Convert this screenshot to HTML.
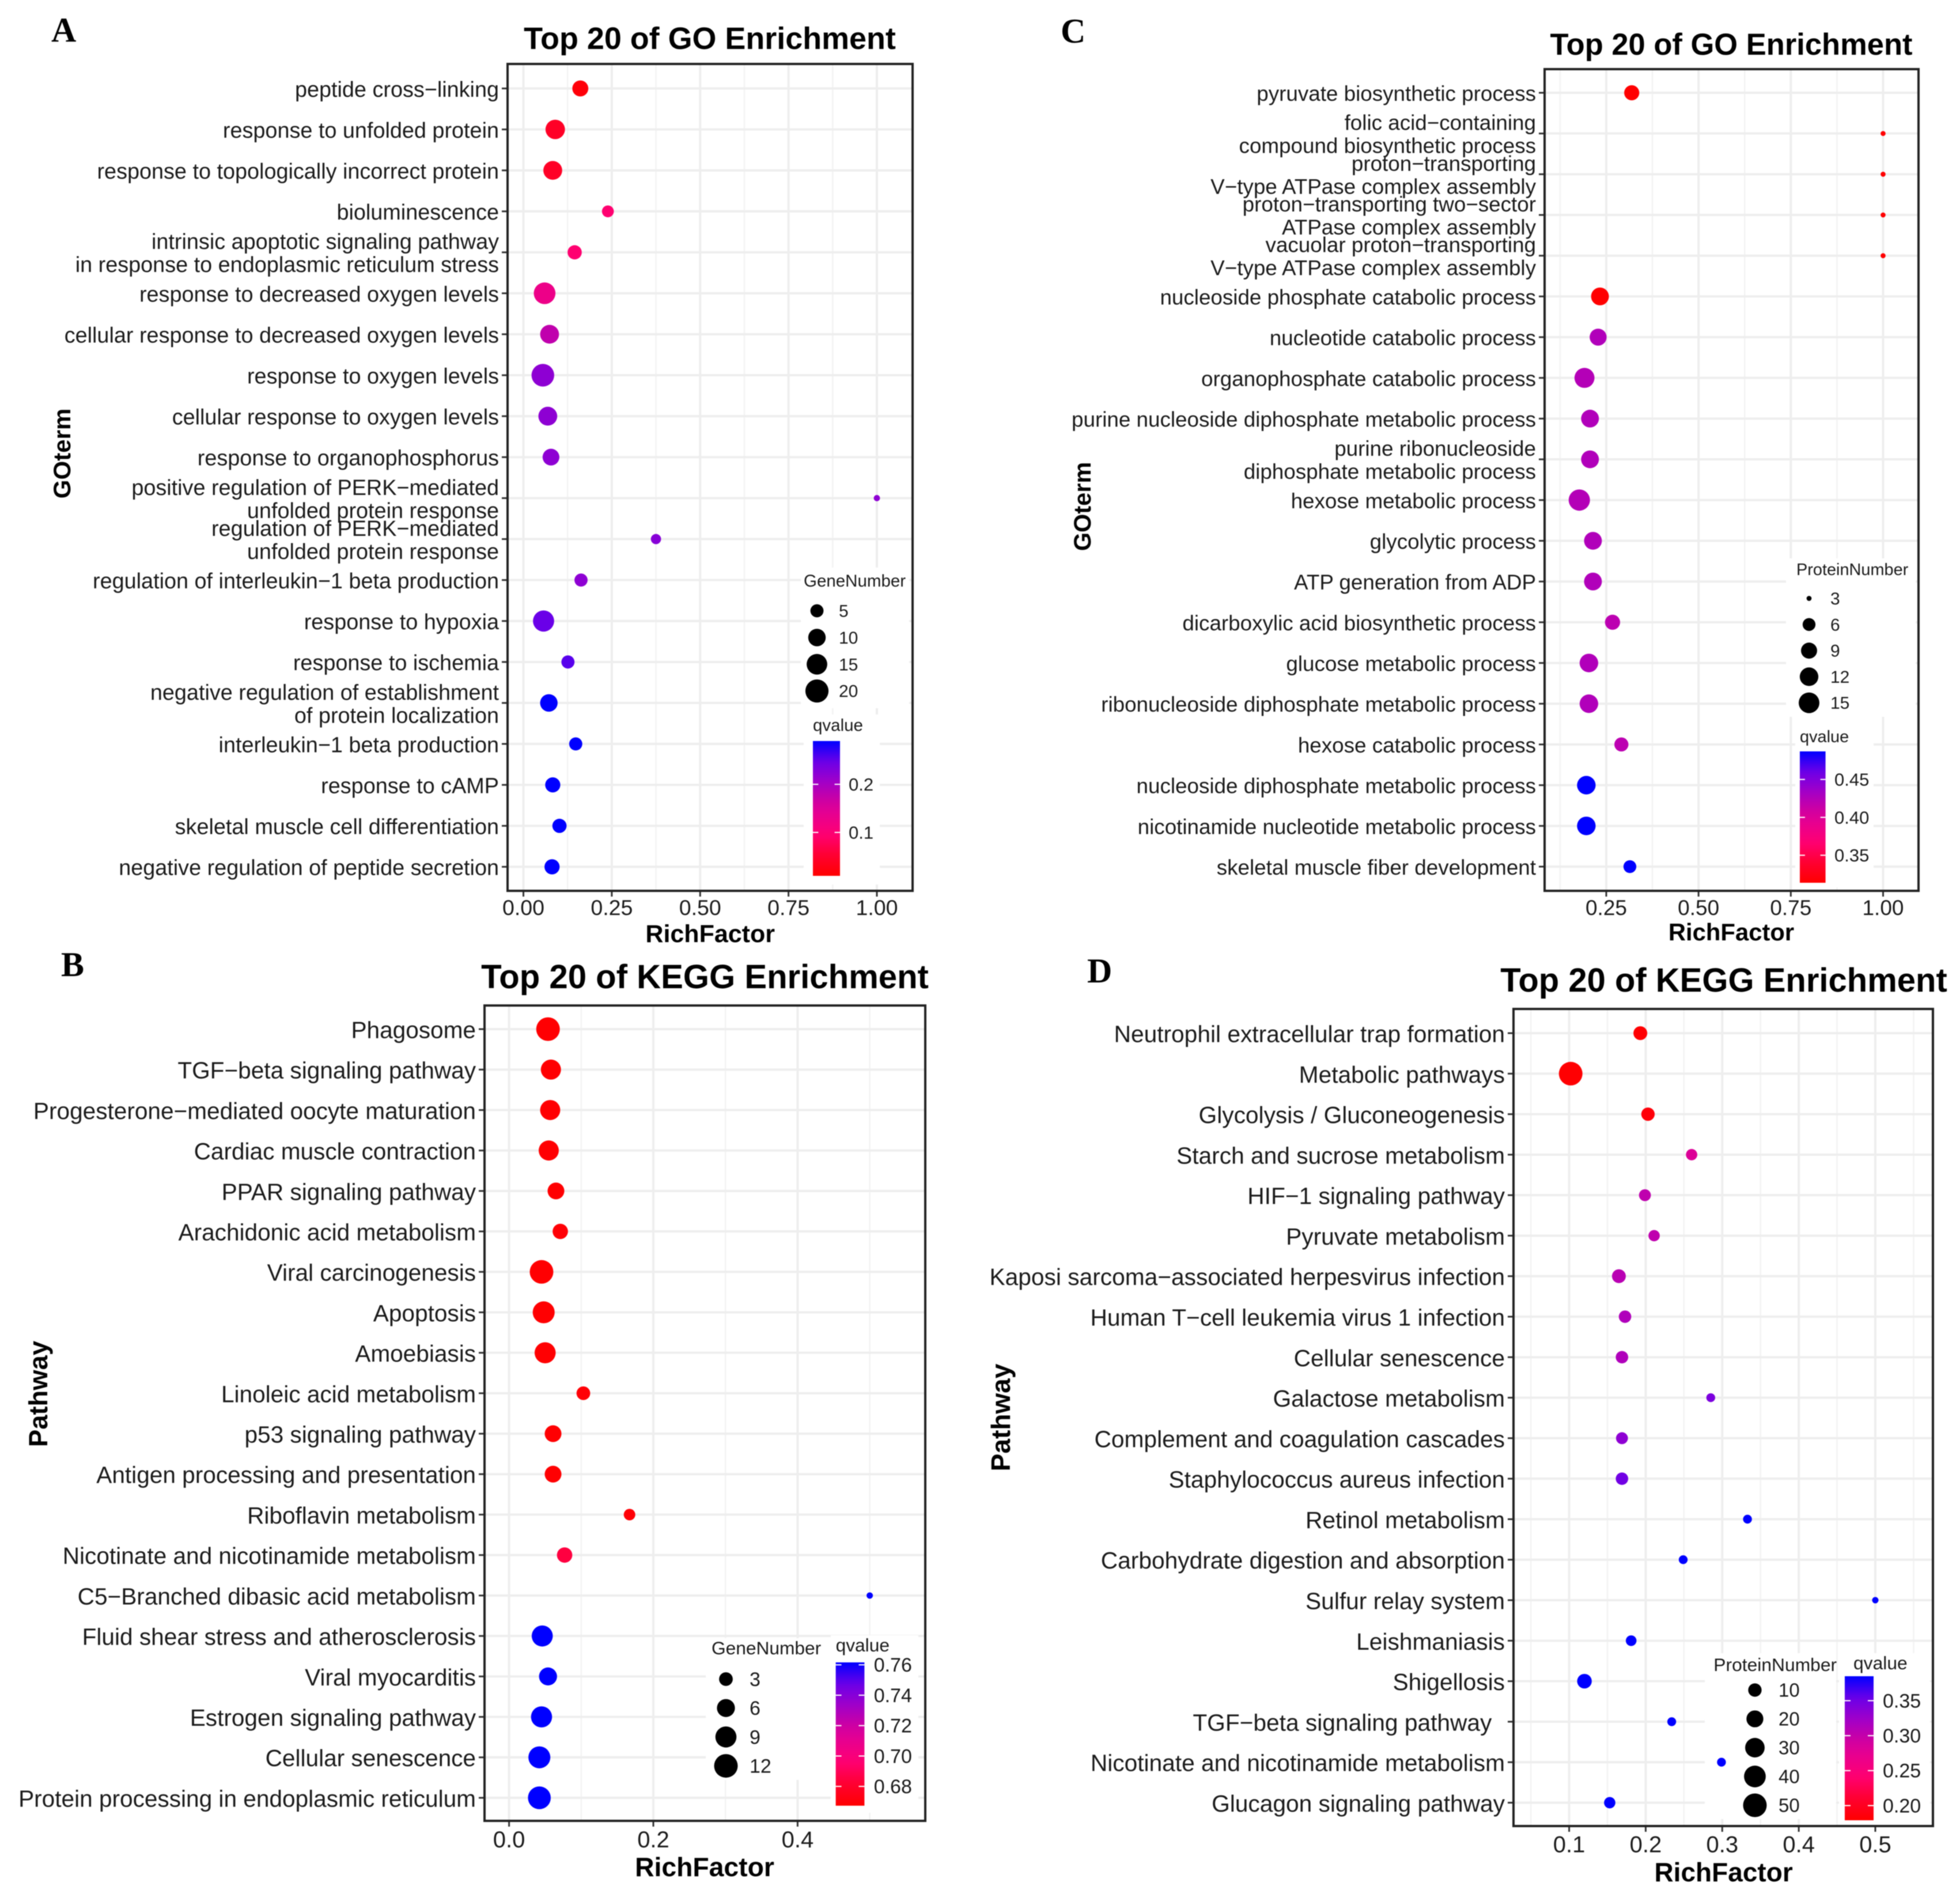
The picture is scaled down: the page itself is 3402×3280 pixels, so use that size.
<!DOCTYPE html>
<html lang="en">
<head>
<meta charset="utf-8">
<title>Top 20 GO and KEGG Enrichment</title>
<style>
html,body{margin:0;padding:0;background:#fff;}
svg{display:block;filter:blur(0.8px);}
text{font-family:"Liberation Sans",sans-serif;fill:#1a1a1a;}
.t{font-weight:bold;fill:#000;text-anchor:middle;}
.l{font-family:"Liberation Serif",serif;font-weight:bold;fill:#000;font-size:60px;}
</style>
</head>
<body>
<svg id="fig" xmlns="http://www.w3.org/2000/svg" width="3402" height="3280" viewBox="0 0 3402 3280">
<rect width="3402" height="3280" fill="#fff"/>
<defs id="defs"></defs>
<text class="l" x="89" y="72">A</text>
<text class="l" x="1841" y="74">C</text>
<text class="l" x="106" y="1694">B</text>
<text class="l" x="1887" y="1705">D</text>

<text class="t" x="1232" y="85" font-size="53.9">Top 20 of GO Enrichment</text>
<text class="t" x="3005" y="95" font-size="52.5">Top 20 of GO Enrichment</text>
<text class="t" x="1223.5" y="1715" font-size="58.1">Top 20 of KEGG Enrichment</text>
<text class="t" x="2992" y="1721" font-size="58">Top 20 of KEGG Enrichment</text>

<text class="t" x="1232.7" y="1635" font-size="43">RichFactor</text>
<text class="t" x="3005" y="1632" font-size="41.8">RichFactor</text>
<text class="t" x="1223" y="3256" font-size="46.3">RichFactor</text>
<text class="t" x="2991.6" y="3265" font-size="46">RichFactor</text>

<text class="t" transform="translate(122,787) rotate(-90)" font-size="42">GOterm</text>
<text class="t" transform="translate(1893,879) rotate(-90)" font-size="41.5">GOterm</text>
<text class="t" transform="translate(82,2419) rotate(-90)" font-size="45.4">Pathway</text>
<text class="t" transform="translate(1753,2460) rotate(-90)" font-size="46">Pathway</text>
</svg>

<script>
/* ---------- Panel A data ---------- */
const aCategories = [
  "peptide cross−linking","response to unfolded protein","response to topologically incorrect protein",
  "bioluminescence","intrinsic apoptotic signaling pathway\nin response to endoplasmic reticulum stress",
  "response to decreased oxygen levels","cellular response to decreased oxygen levels","response to oxygen levels",
  "cellular response to oxygen levels","response to organophosphorus",
  "positive regulation of PERK−mediated\nunfolded protein response","regulation of PERK−mediated\nunfolded protein response",
  "regulation of interleukin−1 beta production","response to hypoxia","response to ischemia",
  "negative regulation of establishment\nof protein localization","interleukin−1 beta production",
  "response to cAMP","skeletal muscle cell differentiation","negative regulation of peptide secretion"];
const aRich = [.161,.090,.083,.239,.145,.060,.074,.055,.069,.078,1.0,.375,.163,.057,.126,.072,.148,.083,.102,.081];
const aCount = [8,13,12,4,6,17,12,19,12,9,2,3,5,16,5,10,5,7,6,7];
const aQ = [.018,.043,.043,.094,.094,.127,.178,.22,.22,.22,.22,.225,.22,.248,.255,.29,.29,.29,.29,.29];
const aXMajor = ["0.00","0.25","0.50","0.75","1.00"];
const aXMinor = [.125,.375,.625,.875];
const aSizeTicks = [5,10,15,20];
const aQTicks = ["0.2","0.1"];

/* ---------- Panel C data ---------- */
const cCategories = [
  "pyruvate biosynthetic process","folic acid−containing\ncompound biosynthetic process",
  "proton−transporting\nV−type ATPase complex assembly","proton−transporting two−sector\nATPase complex assembly",
  "vacuolar proton−transporting\nV−type ATPase complex assembly","nucleoside phosphate catabolic process",
  "nucleotide catabolic process","organophosphate catabolic process","purine nucleoside diphosphate metabolic process",
  "purine ribonucleoside\ndiphosphate metabolic process","hexose metabolic process","glycolytic process",
  "ATP generation from ADP","dicarboxylic acid biosynthetic process","glucose metabolic process",
  "ribonucleoside diphosphate metabolic process","hexose catabolic process","nucleoside diphosphate metabolic process",
  "nicotinamide nucleotide metabolic process","skeletal muscle fiber development"];
const cRich = [.319,1,1,1,1,.233,.228,.191,.206,.206,.177,.214,.214,.267,.203,.203,.291,.196,.196,.314];
const cCount = [8,3,3,3,3,11,10,14,11,11,16,11,11,8,12,12,7,12,12,6];
const cQ = [.314,.314,.314,.314,.314,.314,.426,.424,.426,.426,.424,.426,.426,.42,.426,.426,.42,.487,.487,.487];
const cXMajor = ["0.25","0.50","0.75","1.00"];
const cXMinor = [.125,.375,.625,.875];
const cSizeTicks = [3,6,9,12,15];
const cQTicks = ["0.45","0.40","0.35"];

/* ---------- Panel B data ---------- */
const bCategories = [
  "Phagosome","TGF−beta signaling pathway","Progesterone−mediated oocyte maturation","Cardiac muscle contraction",
  "PPAR signaling pathway","Arachidonic acid metabolism","Viral carcinogenesis","Apoptosis","Amoebiasis",
  "Linoleic acid metabolism","p53 signaling pathway","Antigen processing and presentation","Riboflavin metabolism",
  "Nicotinate and nicotinamide metabolism","C5−Branched dibasic acid metabolism","Fluid shear stress and atherosclerosis",
  "Viral myocarditis","Estrogen signaling pathway","Cellular senescence","Protein processing in endoplasmic reticulum"];
const bRich = [.054,.058,.057,.055,.065,.071,.045,.048,.050,.103,.061,.061,.167,.077,.5,.046,.054,.045,.042,.042];
const bCount = [12,8,8,8,5,4,12,10,9,3,5,5,2,4,1,9,6,9,10,11];
const bQ = [.668,.668,.668,.668,.668,.669,.668,.668,.668,.669,.668,.668,.669,.685,.7616,.7616,.7616,.7616,.7616,.7616];
const bXMajor = ["0.0","0.2","0.4"];
const bXMinor = [.1,.3,.5];
const bSizeTicks = [3,6,9,12];
const bQTicks = ["0.76","0.74","0.72","0.70","0.68"];

/* ---------- Panel D data ---------- */
const dCategories = [
  "Neutrophil extracellular trap formation","Metabolic pathways","Glycolysis / Gluconeogenesis","Starch and sucrose metabolism",
  "HIF−1 signaling pathway","Pyruvate metabolism","Kaposi sarcoma−associated herpesvirus infection",
  "Human T−cell leukemia virus 1 infection","Cellular senescence","Galactose metabolism","Complement and coagulation cascades",
  "Staphylococcus aureus infection","Retinol metabolism","Carbohydrate digestion and absorption","Sulfur relay system",
  "Leishmaniasis","Shigellosis","TGF−beta signaling pathway\u00A0\u00A0","Nicotinate and nicotinamide metabolism","Glucagon signaling pathway"];
const dRich = [.193,.102,.203,.260,.199,.211,.165,.173,.169,.285,.169,.169,.333,.249,.5,.181,.120,.234,.299,.153];
const dCount = [11,50,10,6,7,6,11,8,8,3,7,8,3,3,2,5,13,3,3,6];
const dQ = [.18,.18,.185,.282,.303,.303,.307,.313,.313,.344,.3335,.35,.385,.385,.385,.385,.385,.385,.385,.385];
const dXMajor = ["0.1","0.2","0.3","0.4","0.5"];
const dXMinor = [.05,.15,.25,.35,.45,.55];
const dSizeTicks = [10,20,30,40,50];
const dQTicks = ["0.35","0.30","0.25","0.20"];

/* ---------- Panel layout (geometry only) ---------- */
const panels = [
  {id:"a",cats:aCategories,rich:aRich,count:aCount,q:aQ,xMajor:aXMajor,xMinor:aXMinor,sizeTicks:aSizeTicks,qTicks:aQTicks,
   box:[881,111,1584,1546],row0:153.5,rowN:1504.3,cal:[0,908.5,1,1522],labelFs:37.8,xFs:37.5,xY:1575,lineGap:40,
   nRange:[2,21],dRange:[10.8,41],qRange:[.0097,.29],
   sizeTitle:"GeneNumber",sizeTitleX:1395,sizeTitleY:1007.5,titleFs:29.5,dotX:1418,dotY0:1060,dotStep:46.4,labX:1456,legFs:30,
   qTitleX:1411,qTitleY:1258,bar:[1411,1286,1458,1520],qLabX:1473,qFs:31,
   wipes:[[1390,985,188,244],[1395,1240,132,295]]},
  {id:"c",cats:cCategories,rich:cRich,count:cCount,q:cQ,xMajor:cXMajor,xMinor:cXMinor,sizeTicks:cSizeTicks,qTicks:cQTicks,
   box:[2681,120,3330,1546],row0:161,rowN:1504,cal:[.25,2788,1,3268.5],labelFs:36.8,xFs:37,xY:1575,lineGap:40,
   nRange:[3,16],dRange:[8.7,37],qRange:[.3137,.487],
   sizeTitle:"ProteinNumber",sizeTitleX:3118,sizeTitleY:988,titleFs:28.9,dotX:3140,dotY0:1038.5,dotStep:45.3,labX:3177,legFs:30,
   qTitleX:3124,qTitleY:1278,bar:[3124,1304,3168.6,1532],qLabX:3184,qFs:31,
   wipes:[[3100,969,225,275],[3116,1244,136,296]]},
  {id:"b",cats:bCategories,rich:bRich,count:bCount,q:bQ,xMajor:bXMajor,xMinor:bXMinor,sizeTicks:bSizeTicks,qTicks:bQTicks,
   box:[841,1745,1606,3160],row0:1786,rowN:3120,cal:[0,883.6,.4,1384.4],labelFs:40.6,xFs:40,xY:3192,lineGap:40,
   nRange:[1,12],dRange:[11,41],qRange:[.6673,.7616],
   sizeTitle:"GeneNumber",sizeTitleX:1235,sizeTitleY:2860,titleFs:31.7,dotX:1260,dotY0:2914,dotStep:50.2,labX:1301,legFs:34,
   qTitleX:1450.6,qTitleY:2855,bar:[1450.6,2885,1500.4,3133.7],qLabX:1516.7,qFs:34,
   wipes:[[1225,2843,217,246],[1442,2838,152,308]]},
  {id:"d",cats:dCategories,rich:dRich,count:dCount,q:dQ,xMajor:dXMajor,xMinor:dXMinor,sizeTicks:dSizeTicks,qTicks:dQTicks,
   box:[2627,1751,3355,3169],row0:1793,rowN:3128.5,cal:[.1,2723.6,.5,3255],labelFs:40.7,xFs:40,xY:3200.6,lineGap:40,
   nRange:[2,50],dRange:[11,41],qRange:[.179,.385],
   sizeTitle:"ProteinNumber",sizeTitleX:2974.3,sizeTitleY:2889,titleFs:31.8,dotX:3046,dotY0:2933,dotStep:50,labX:3087,legFs:33,
   qTitleX:3217,qTitleY:2886,bar:[3202,2909,3252,3159],qLabX:3268,qFs:34,
   wipes:[[2959,2869,228,288],[3192,2869,158,298]]}
];

/* ---------- Helpers ---------- */
const NS = "http://www.w3.org/2000/svg";
const fig = document.getElementById("fig");
const defs = document.getElementById("defs");
function mk(parent, tag, attrs, text){
  const el = document.createElementNS(NS, tag);
  for (const k in attrs) el.setAttribute(k, attrs[k]);
  if (text !== undefined) el.textContent = text;
  parent.appendChild(el);
  return el;
}
/* red-to-blue palette as it appears on the colour bars */
const paletteT = [0,.15,.3,.45,.55,.7,.85,1];
const paletteR = [255,255,255,232,208,160,106,0];
const paletteB = [0,48,112,143,160,200,232,255];
function gradientColor(t){
  t=Math.max(0,Math.min(1,t));
  let i=0;
  while(i<paletteT.length-2&&t>paletteT[i+1]) i++;
  const u=(t-paletteT[i])/(paletteT[i+1]-paletteT[i]);
  const r=Math.round(paletteR[i]+(paletteR[i+1]-paletteR[i])*u);
  const b=Math.round(paletteB[i]+(paletteB[i+1]-paletteB[i])*u);
  return "rgb("+r+",0,"+b+")";
}

/* ---------- Draw one panel ---------- */
function drawPanel(p){
  const g = mk(fig,"g",{});
  
  
  const [L,T,R,B] = p.box;
  const xScale = v => p.cal[1] + (v-p.cal[0])*(p.cal[3]-p.cal[1])/(p.cal[2]-p.cal[0]);
  const yScale = i => p.row0 + i*(p.rowN-p.row0)/(p.cats.length-1);
  const dScale = n => p.dRange[0] + (p.dRange[1]-p.dRange[0])*Math.sqrt(Math.max(0,(n-p.nRange[0])/(p.nRange[1]-p.nRange[0])));
  const tScale = q => (q-p.qRange[0])/(p.qRange[1]-p.qRange[0]);

  /* gridlines */
  p.xMinor.forEach(v=>{
    const x=xScale(v);
    if(x<L||x>R) return;
    const el=mk(g,"line",{x1:x,x2:x,y1:T,y2:B,stroke:"#f3f3f3","stroke-width":2.5});
    
    
  });
  p.xMajor.forEach(lbl=>{
    const x=xScale(parseFloat(lbl));
    const el=mk(g,"line",{x1:x,x2:x,y1:T,y2:B,stroke:"#eeeeee","stroke-width":4});
    
    
  });
  p.cats.forEach((c,i)=>{
    const el=mk(g,"line",{x1:L,x2:R,y1:yScale(i),y2:yScale(i),stroke:"#eeeeee","stroke-width":4});
    
    
  });

  /* legend background */
  p.wipes.forEach(w=>{
    const el=mk(g,"rect",{x:w[0],y:w[1],width:w[2],height:w[3],fill:"#fff"});
    
    
  });

  /* points */
  p.cats.forEach((c,i)=>{
    const el=mk(g,"circle",{cx:xScale(p.rich[i]),cy:yScale(i),r:dScale(p.count[i])/2,fill:gradientColor(tScale(p.q[i]))});
    
    
  });

  /* y ticks and labels */
  p.cats.forEach((c,i)=>{
    const y=yScale(i);
    const tick=mk(g,"line",{x1:L-10,x2:L,y1:y,y2:y,stroke:"#333","stroke-width":3});
    
    
    const lines=c.split("\n");
    const y0=y-(lines.length-1)*p.lineGap/2+p.labelFs*.38;
    const t=mk(g,"text",{"text-anchor":"end","font-size":p.labelFs,"xml:space":"preserve"});
    
    
    lines.forEach((ln,j)=>{
      mk(t,"tspan",{x:L-15,y:y0+j*p.lineGap},ln);
    });
  });

  /* x ticks and labels */
  p.xMajor.forEach(lbl=>{
    const x=xScale(parseFloat(lbl));
    const tick=mk(g,"line",{x1:x,x2:x,y1:B,y2:B+10,stroke:"#333","stroke-width":3});
    
    
    const t=mk(g,"text",{x:x,y:p.xY+p.xFs*.35,"text-anchor":"middle","font-size":p.xFs},lbl);
    
    
  });

  /* size legend */
  const st=mk(g,"text",{x:p.sizeTitleX,y:p.sizeTitleY+p.titleFs*.35,"font-size":p.titleFs},p.sizeTitle);
  
  
  p.sizeTicks.forEach((n,i)=>{
    const y=p.dotY0+i*p.dotStep;
    const dot=mk(g,"circle",{cx:p.dotX,cy:y,r:dScale(n)/2,fill:"#000"});
    
    
    const lab=mk(g,"text",{x:p.labX,y:y+p.legFs*.35,"font-size":p.legFs},String(n));
    
    
  });

  /* colour legend */
  const qt=mk(g,"text",{x:p.qTitleX,y:p.qTitleY+p.titleFs*.35,"font-size":p.titleFs},"qvalue");
  
  
  const gid="qgrad-"+p.id;
  const lg=mk(defs,"linearGradient",{id:gid,x1:0,y1:1,x2:0,y2:0});
  for(let s=0;s<=24;s++) mk(lg,"stop",{offset:s/24,"stop-color":gradientColor(s/24)});
  const [bx0,by0,bx1,by1]=p.bar;
  const bar=mk(g,"rect",{x:bx0,y:by0,width:bx1-bx0,height:by1-by0,fill:"url(#"+gid+")"});
  
  
  const qY=q=>by1-tScale(q)*(by1-by0);
  const tw=(bx1-bx0)/5;
  p.qTicks.forEach(lbl=>{
    const y=qY(parseFloat(lbl));
    [[bx0,bx0+tw],[bx1-tw,bx1]].forEach(seg=>{
      const m=mk(g,"line",{x1:seg[0],x2:seg[1],y1:y,y2:y,stroke:"#fff","stroke-width":2});
      
      
    });
    const lab=mk(g,"text",{x:p.qLabX,y:y+p.qFs*.35,"font-size":p.qFs},lbl);
    
    
  });

  /* border */
  const border=mk(g,"rect",{x:L,y:T,width:R-L,height:B-T,fill:"none",stroke:"#222","stroke-width":4});
  
  
}
panels.forEach(drawPanel);
</script>
</body>
</html>
